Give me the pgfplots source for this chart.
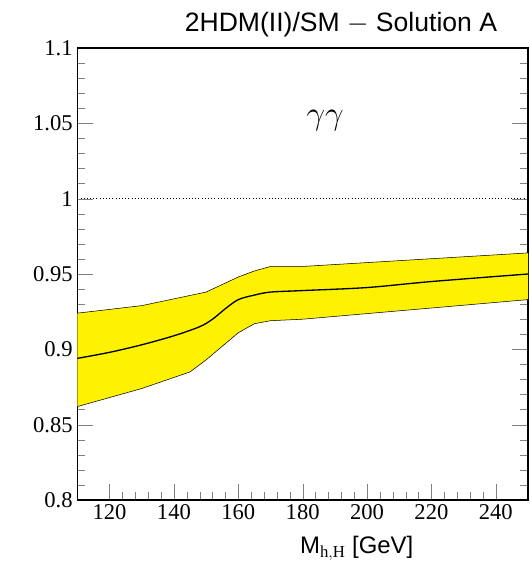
\documentclass[border=0pt]{standalone}
\usepackage{pgfplots}
\pgfplotsset{compat=1.18}
\usepackage{fontspec}
\setmainfont{Liberation Serif}
\newfontfamily\sansf{Liberation Sans}
\begin{document}
\begin{tikzpicture}[x=1bp,y=1bp]
\path[use as bounding box] (-58,-49.5) rectangle (339,375);
\begin{axis}[at={(0,0)},anchor=south west,scale only axis,width=338bp,height=339bp,
 xmin=110,xmax=250,ymin=0.8,ymax=1.1,
 xtick={120,140,...,240},ytick={0.8,0.85,...,1.1},
 yticklabels={0.8,0.85,0.9,0.95,1,1.05,1.1},
 minor x tick num=4, minor y tick num=4,
 tick align=inside, ticklabel style={font=\fontsize{17}{18}\selectfont},
 /pgf/number format/assume math mode=true,
 xtick pos=bottom, ytick pos=both, axis line style={line width=0.8pt},
 major tick length=12pt, minor tick length=6pt,
 title={\sansf\fontsize{20}{22}\selectfont 2HDM(II)/SM $-$ Solution A},
 title style={at={(0.585,1)},anchor=south,yshift=-1pt},
 xlabel={\sansf\fontsize{18}{20}\selectfont M$_{\mathrm{h,H}}$ [GeV]}, xlabel style={at={(0.62,0)},anchor=north,yshift=-24pt},
 clip=true]
\addplot[fill=yellow,draw=none] coordinates {(110,0.924)(130,0.929)(150,0.938)(155,0.943)(160,0.948)(165,0.952)(170,0.955)(180,0.955)(250,0.964)
 (250,0.933)(180,0.920)(170,0.919)(165,0.917)(160,0.911)(155,0.902)(150,0.893)(145,0.885)(130,0.874)(110,0.862)} --cycle;
\addplot[black,thin] coordinates {(110,0.924)(130,0.929)(150,0.938)(155,0.943)(160,0.948)(165,0.952)(170,0.955)(180,0.955)(250,0.964)};
\addplot[black,thin] coordinates {(110,0.862)(130,0.874)(145,0.885)(150,0.893)(155,0.902)(160,0.911)(165,0.917)(170,0.919)(180,0.920)(250,0.933)};
\addplot[black,line width=1pt,smooth] coordinates {(110,0.894)(120,0.898)(130,0.903)(140,0.909)(148,0.915)(152,0.920)(156,0.927)(160,0.933)(165,0.936)(170,0.938)(180,0.939)(200,0.941)(220,0.945)(250,0.950)};
\addplot[black,dotted,thin] coordinates {(110,1)(250,1)};
\node at (axis cs:187,1.052) {\fontsize{26}{28}\selectfont $\gamma\gamma$};
\end{axis}
\end{tikzpicture}
\end{document}
